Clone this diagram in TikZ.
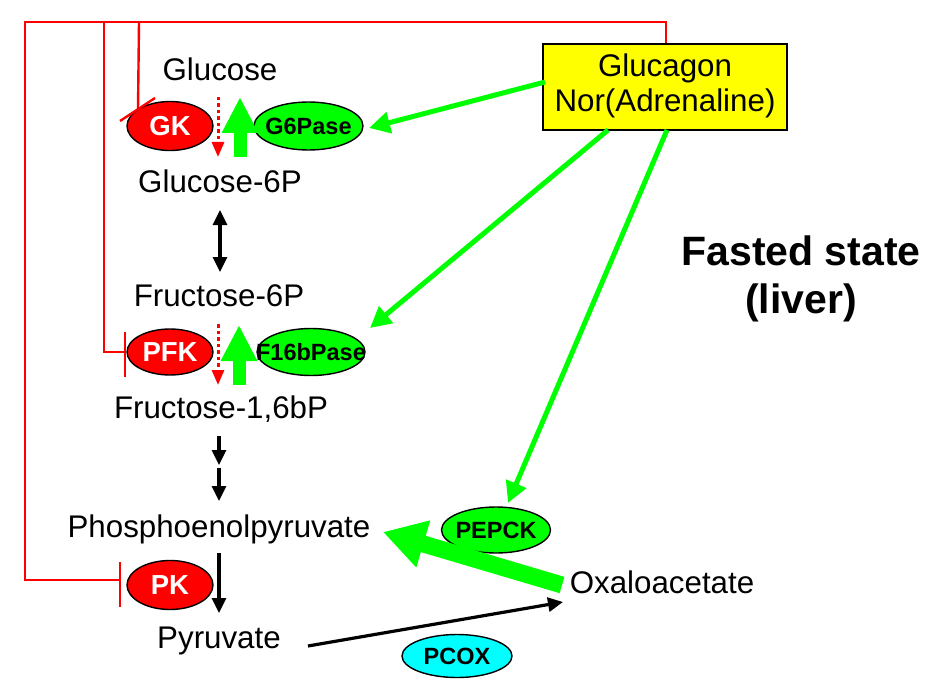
\documentclass[tikz,border=0pt]{standalone}
\usepackage{fontspec}
\setmainfont{Liberation Sans}
\usetikzlibrary{shapes.geometric,arrows.meta}
\definecolor{myRed}{RGB}{255,0,0}
\definecolor{myGreen}{RGB}{0,255,0}
\definecolor{myCyan}{RGB}{0,255,255}
\definecolor{myYellow}{RGB}{255,255,0}
\begin{document}
\begin{tikzpicture}[x=1pt,y=-1pt,
  metab/.style={anchor=base, inner sep=0pt, font=\fontsize{31.3}{34}\selectfont},
  enz/.style={ellipse, draw=black, line width=1.4pt, inner sep=0pt},
  wlab/.style={text=white, font=\bfseries\fontsize{27.5}{29}\selectfont},
  blab/.style={text=black, font=\bfseries\fontsize{23.5}{25}\selectfont},
  inhib/.style={draw=myRed, line width=2.4pt},
  sig/.style={draw=myGreen, line width=5pt, -{Triangle[width=21pt,length=21pt]}},
  flux/.style={draw=black, line width=3.2pt, -{Triangle[width=14pt,length=15pt]}},
  weak/.style={draw=myRed, line width=3pt, dash pattern=on 3.5pt off 3pt, -{Triangle[width=12pt,length=15pt]}},
  strong/.style={draw=myGreen, line width=13pt, -{Triangle[width=34pt,length=36pt]}},
]
\useasboundingbox (0,0) rectangle (944,687);
\fill[white] (0,0) rectangle (944,687);

% metabolites
\node[metab] (glc) at (220,81) {Glucose};
\node[metab] (g6p) at (220,193) {Glucose-6P};
\node[metab] (f6p) at (219,306) {Fructose-6P};
\node[metab] (f16) at (221,418) {Fructose-1,6bP};
\node[metab] (pep) at (219,537) {Phosphoenolpyruvate};
\node[metab] (pyr) at (219,648) {Pyruvate};
\node[metab] (oaa) at (662,593) {Oxaloacetate};

% hormone box
\node[draw=black, fill=myYellow, line width=1.4pt, minimum width=244pt, minimum height=86pt, inner sep=0pt] (hormone) at (665,87) {};
\node[metab] (glcg) at (665,77) {Glucagon};
\node[metab] (nor) at (665,112) {Nor(Adrenaline)};

% title
\node[anchor=base, inner sep=0pt, font=\bfseries\fontsize{41}{45}\selectfont] (fast) at (801,265) {Fasted state};
\node[anchor=base, inner sep=0pt, font=\bfseries\fontsize{41}{45}\selectfont] (liver) at (801,313) {(liver)};

% enzymes
\node[enz, fill=myRed, minimum width=86pt, minimum height=49pt, label={[wlab]center:GK}] (gk) at (170,126) {};
\node[enz, fill=myGreen, minimum width=109pt, minimum height=48pt, label={[blab]center:G6Pase}] (g6pase) at (308.5,126) {};
\node[enz, fill=myRed, minimum width=86pt, minimum height=46pt, label={[wlab]center:PFK}] (pfk) at (170,352) {};
\node[enz, fill=myGreen, minimum width=108pt, minimum height=47pt, label={[blab]center:F16bPase}] (fbpase) at (311,352) {};
\node[enz, fill=myRed, minimum width=86pt, minimum height=49pt, label={[wlab]center:PK}] (pk) at (170,585) {};
\node[enz, fill=myGreen, minimum width=109pt, minimum height=46pt, label={[blab]center:PEPCK}] (pepck) at (496,530) {};
\node[enz, fill=myCyan, minimum width=110pt, minimum height=43pt, label={[blab]center:PCOX}] (pcox) at (457,656) {};

% coordinates
\coordinate (topR) at (666,22);
\coordinate (topL) at (25,22);
\coordinate (pkL) at (25,580);
\coordinate (pkI) at (120,580);
\coordinate (pkB1) at (120,562);
\coordinate (pkB2) at (120,607);
\coordinate (pfkT) at (104,22);
\coordinate (pfkL) at (104,352);
\coordinate (pfkI) at (125,352);
\coordinate (pfkB1) at (125,332);
\coordinate (pfkB2) at (125,377);
\coordinate (gkT) at (139,22);
\coordinate (gkI) at (138,109.5);
\coordinate (gkB1) at (120,121);
\coordinate (gkB2) at (155,98);

% inhibition lines
\draw[inhib] (hormone.north -| topR) -- (topR) -- (topL) -- (pkL) -- (pkI);
\draw[inhib] (pkB1) -- (pkB2);
\draw[inhib] (pfkT) -- (pfkL) -- (pfkI);
\draw[inhib] (pfkB1) -- (pfkB2);
\draw[inhib] (gkT) -- (gkI);
\draw[inhib] (gkB1) -- (gkB2);

% hormone signals
\coordinate (s1a) at (545,82);
\coordinate (s1b) at (369,128);
\coordinate (s2a) at (608,130);
\coordinate (s2b) at (370,328);
\coordinate (s3a) at (667,130);
\coordinate (s3b) at (508,503);
\draw[sig] (s1a) -- (s1b);
\draw[sig] (s2a) -- (s2b);
\draw[sig] (s3a) -- (s3b);

% weak glycolytic steps
\coordinate (w1a) at (218,97);
\coordinate (w1b) at (218,157);
\coordinate (w2a) at (218,324);
\coordinate (w2b) at (218,385);
\draw[weak] (w1a) -- (w1b);
\draw[weak] (w2a) -- (w2b);

% strong gluconeogenic steps
\coordinate (u1a) at (240,157);
\coordinate (u1b) at (240,97);
\coordinate (u2a) at (239,385);
\coordinate (u2b) at (239,325);
\draw[strong] (u1a) -- (u1b);
\draw[strong] (u2a) -- (u2b);
\coordinate (pa) at (562,585);
\coordinate (pb) at (383,532);
\draw[draw=myGreen, line width=17pt, -{Triangle[width=46pt,length=42pt]}] (pa) -- (pb);

% black flux arrows
\coordinate (d1a) at (220,210);
\coordinate (d1b) at (220,272);
\draw[draw=black, line width=3.2pt, {Triangle[width=14pt,length=15pt]}-{Triangle[width=14pt,length=15pt]}] (d1a) -- (d1b);
\coordinate (d2a) at (219,436);
\coordinate (d2b) at (219,465);
\coordinate (d3a) at (219,468);
\coordinate (d3b) at (219,501);
\draw[flux] (d2a) -- (d2b);
\draw[flux] (d3a) -- (d3b);
\coordinate (d4a) at (219,553);
\coordinate (d4b) at (219,613);
\draw[flux] (d4a) -- (d4b);
\coordinate (d5a) at (308,646);
\coordinate (d5b) at (563,602);
\draw[flux] (d5a) -- (d5b);
\end{tikzpicture}
\end{document}
